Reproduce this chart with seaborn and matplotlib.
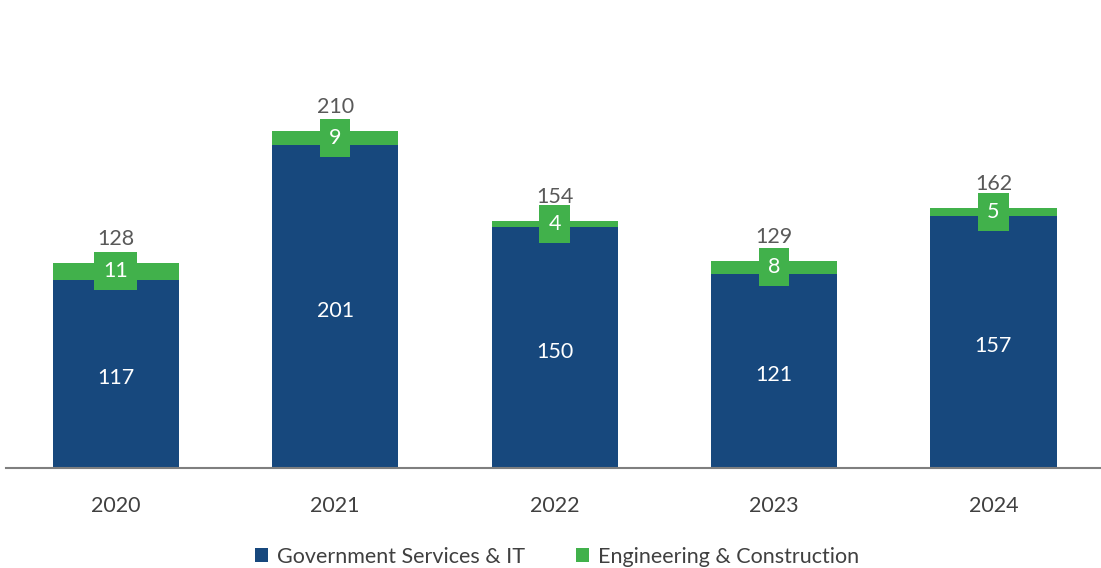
import matplotlib
matplotlib.use("Agg")
import matplotlib.pyplot as plt
from matplotlib.patches import Patch
import seaborn as sns
import pandas as pd

years = ["2020", "2021", "2022", "2023", "2024"]
gov_it = [117, 201, 150, 121, 157]
eng_con = [11, 9, 4, 8, 5]
series_names = ["Government Services & IT", "Engineering & Construction"]

totals = [g + e for g, e in zip(gov_it, eng_con)]
df = pd.DataFrame({"year": years, "gov": gov_it, "eng": eng_con, "total": totals})

BLUE = "#17487D"
GREEN = "#41B14B"
TXT = "#404040"

sns.set_theme(style="white")
plt.rcParams["font.family"] = ["Lato", "DejaVu Sans"]

fig = plt.figure(figsize=(11.01, 5.68), dpi=100)
ax = fig.add_axes([0.0055, 0.176, 0.9945, 0.824])

sns.barplot(data=df, x="year", y="total", color=GREEN, saturation=1, width=0.575,
            linewidth=0, ax=ax)
sns.barplot(data=df, x="year", y="gov", color=BLUE, saturation=1, width=0.575,
            linewidth=0, ax=ax)

for i, (g, e, t) in enumerate(zip(gov_it, eng_con, totals)):
    ax.annotate(str(g), xy=(i, g / 2), xytext=(0, -4), textcoords="offset pixels",
                ha="center", va="center", color="white", fontsize=15.5)
    ax.text(i, g + e / 2, str(e), ha="center", va="center", color="white", fontsize=15.5,
            bbox=dict(boxstyle="square,pad=0.42", fc=GREEN, ec="none"))
    ax.annotate(str(t), xy=(i, t), xytext=(0, 24), textcoords="offset pixels",
                ha="center", va="center", color="#595959", fontsize=15.5)

ax.set_xlim(-0.5, 4.49)
ax.set_ylim(0, 291.6)
ax.set_xlabel("")
ax.set_ylabel("")
ax.set_yticks([])
for s in ["top", "right", "left"]:
    ax.spines[s].set_visible(False)
ax.spines["bottom"].set_color("#7F7F7F")
ax.spines["bottom"].set_linewidth(1.5)
ax.tick_params(axis="x", length=0, pad=20, labelsize=15.5, labelcolor=TXT)

handles = [Patch(facecolor=BLUE, edgecolor="none"), Patch(facecolor=GREEN, edgecolor="none")]
fig.legend(handles, series_names, loc="center", bbox_to_anchor=(0.506, 0.02), ncol=2,
           frameon=False, fontsize=15.5, labelcolor=TXT, handlelength=0.6, handleheight=0.6,
           handletextpad=0.4, columnspacing=2.4)

fig.savefig("out.png", dpi=100)
